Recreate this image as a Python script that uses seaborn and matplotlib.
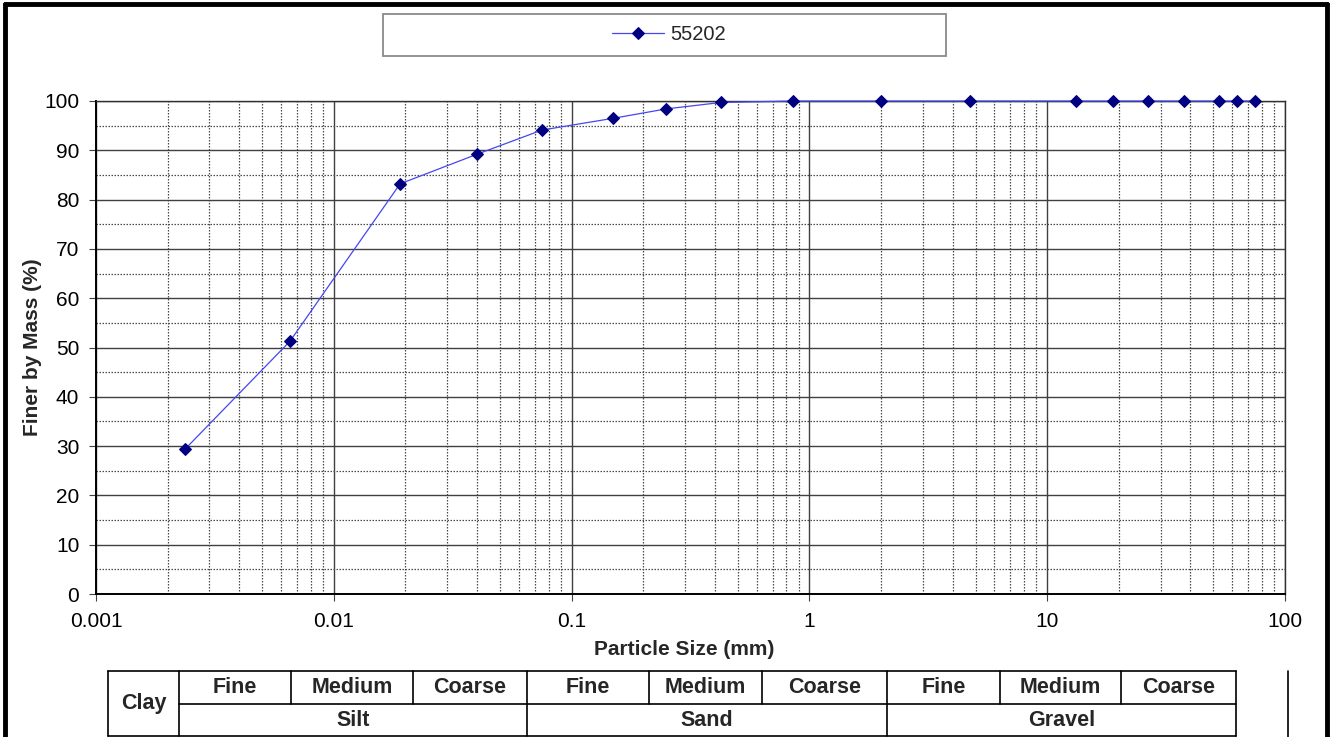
import numpy as np
import pandas as pd
import matplotlib
matplotlib.use("Agg")
import matplotlib.pyplot as plt
import seaborn as sns
from matplotlib.ticker import MultipleLocator, FixedLocator, FuncFormatter, LogLocator, NullFormatter
from matplotlib.lines import Line2D
from matplotlib.patches import Rectangle

# --- data ---
sample_id = "55202"
particle_size = [0.00237, 0.00655, 0.0190, 0.040, 0.075, 0.15, 0.25, 0.425, 0.85,
                 2.0, 4.75, 13.2, 19.0, 26.5, 37.5, 53.0, 63.0, 75.0]
finer_pct = [29.4, 51.3, 83.2, 89.2, 94.1, 96.5, 98.4, 99.7, 100.0,
             100.0, 100.0, 100.0, 100.0, 100.0, 100.0, 100.0, 100.0, 100.0]
x_ticks = [0.001, 0.01, 0.1, 1, 10, 100]

# soil classification table under the chart
sub_labels = ["Fine", "Medium", "Coarse"] * 3
group_labels = ["Silt", "Sand", "Gravel"]

W, H = 1332, 737

sns.set_style("white")
plt.rcParams["font.family"] = ["Liberation Sans", "DejaVu Sans"]

df = pd.DataFrame({"size": particle_size, "finer": finer_pct})

fig = plt.figure(figsize=(W / 100, H / 100), dpi=100)
ax = fig.add_axes([96 / W, 1 - 594 / H, (1285 - 96) / W, (594 - 101) / H])

sns.lineplot(data=df, x="size", y="finer", ax=ax, sort=False, color="#4646f0", lw=0.9,
             marker="D", markersize=6.5, markerfacecolor="#000080", markeredgecolor="#000080",
             clip_on=False, label=sample_id, zorder=5)

ax.set_xscale("log")
ax.set_xlim(0.001, 100)
ax.set_ylim(0, 100)
ax.xaxis.set_major_locator(FixedLocator(x_ticks))
ax.xaxis.set_major_formatter(FuncFormatter(lambda v, p: "%g" % v))
ax.xaxis.set_minor_locator(LogLocator(base=10, subs=np.arange(2, 10)))
ax.xaxis.set_minor_formatter(NullFormatter())
ax.yaxis.set_major_locator(MultipleLocator(10))
ax.yaxis.set_minor_locator(MultipleLocator(5))

ax.grid(which="major", color="#404040", lw=1.0, ls="-")
ax.grid(which="minor", color="#4a4a4a", lw=0.9, ls=(0, (1.2, 1.2)))
ax.set_axisbelow(True)

ax.tick_params(which="major", direction="out", length=5, width=0.8, color="#404040",
               labelsize=15, labelcolor="black", bottom=True, left=True)
ax.tick_params(axis="x", pad=8)
ax.tick_params(axis="y", pad=7)
ax.tick_params(which="minor", length=0)

for side in ["left", "bottom"]:
    ax.spines[side].set_color("black")
    ax.spines[side].set_linewidth(1.4)
for side in ["top", "right"]:
    ax.spines[side].set_color("#303030")
    ax.spines[side].set_linewidth(1.0)

ax.set_xlabel("Particle Size (mm)", fontsize=15, fontweight="bold")
ax.set_ylabel("Finer by Mass (%)", fontsize=15, fontweight="bold")
ax.xaxis.set_label_coords((684 - 96) / 1189, -(640 - 594) / 493)
ax.yaxis.set_label_coords(-(96 - 42) / 1189, 0.5)

# legend in a wide grey box above the plot
fig.add_artist(Rectangle((383 / W, 1 - 56 / H), (946 - 383) / W, 42 / H,
                         transform=fig.transFigure, fill=False, ec="#8a8a8a", lw=1.3))
ax.legend(loc="center", bbox_to_anchor=(669 / W, 1 - 35 / H), bbox_transform=fig.transFigure,
          frameon=False, fontsize=14.5, handlelength=2.6, handletextpad=0.3)

# thick outer frame (cropped at the bottom)
for xs, ys in [([5, 1327], [4, 4]), ([5, 5], [4, H]), ([1327, 1327], [4, H])]:
    fig.add_artist(Line2D([x / W for x in xs], [1 - y / H for y in ys],
                          transform=fig.transFigure, color="black", lw=3.5))

# classification table
def hline(x0, x1, y, lw=1.2):
    fig.add_artist(Line2D([x0 / W, x1 / W], [1 - y / H, 1 - y / H],
                          transform=fig.transFigure, color="black", lw=lw))

def vline(x, y0, y1, lw=1.2):
    fig.add_artist(Line2D([x / W, x / W], [1 - y0 / H, 1 - y1 / H],
                          transform=fig.transFigure, color="black", lw=lw))

col_edges = [179, 291, 413, 527, 649, 762, 887, 1000, 1121, 1236]
tab_left, row_top, row_mid, row_bot = 108, 671, 704, 736
hline(tab_left, col_edges[-1], row_top)
hline(col_edges[0], col_edges[-1], row_mid)
hline(tab_left, col_edges[-1], row_bot)
vline(tab_left, row_top, row_bot)
for i, x in enumerate(col_edges):
    if i % 3 == 0:
        vline(x, row_top, row_bot)
    else:
        vline(x, row_top, row_mid)
vline(1288, row_top, H)

txt = dict(ha="center", va="center", fontsize=15.5, fontweight="bold")
fig.text((tab_left + col_edges[0]) / 2 / W, 1 - (row_top + row_bot) / 2 / H, "Clay", **txt)
for i, lab in enumerate(sub_labels):
    xc = (col_edges[i] + col_edges[i + 1]) / 2
    fig.text(xc / W, 1 - (row_top + row_mid) / 2 / H, lab, **txt)
for j, lab in enumerate(group_labels):
    xc = (col_edges[3 * j] + col_edges[3 * j + 3]) / 2
    fig.text(xc / W, 1 - (row_mid + row_bot) / 2 / H, lab, **txt)

fig.savefig("out.png", dpi=100)
plt.close(fig)
